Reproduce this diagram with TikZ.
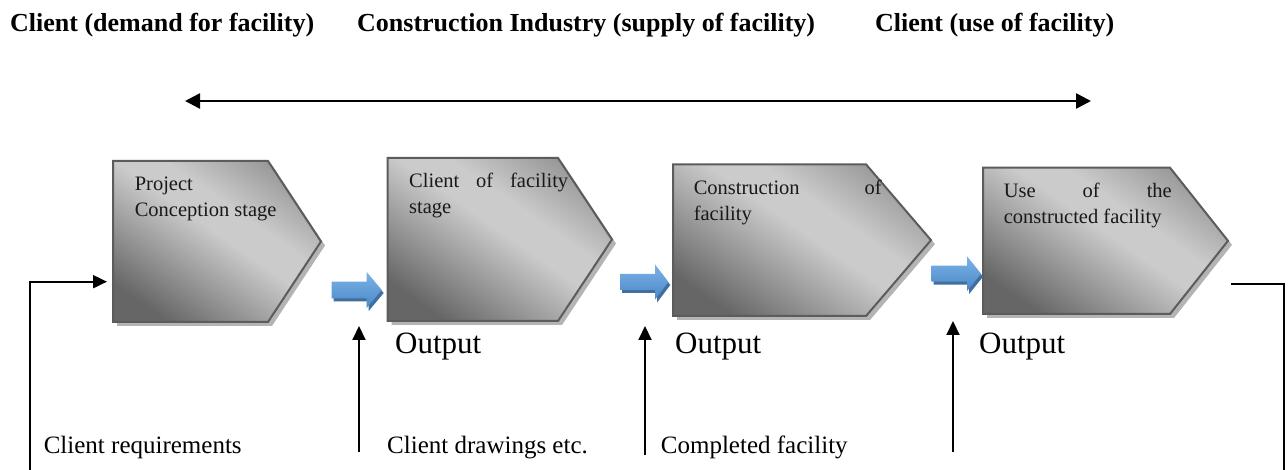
\documentclass[tikz,border=0pt]{standalone}
\usepackage{fontspec}
\setmainfont{Liberation Serif}
\usetikzlibrary{arrows.meta,calc}
\definecolor{gDark}{HTML}{666666}
\definecolor{gLight}{HTML}{CBCBCB}
\definecolor{gTop}{HTML}{8C8C8C}
\definecolor{gEdge}{HTML}{5C5C5C}
\definecolor{gShadow}{HTML}{B4B4B4}
\definecolor{bTop}{HTML}{7DB3E6}
\definecolor{bBot}{HTML}{4A88C8}
\definecolor{bShadow}{HTML}{3F6F9E}
\pgfdeclareverticalshading{stageshade}{100bp}{color(0bp)=(gDark); color(24bp)=(gDark); color(52bp)=(gLight); color(60bp)=(gLight); color(80bp)=(gTop); color(100bp)=(gTop)}
\newcommand\stagebox[6]{% name, left, top, bevel x, point x, bottom
  \coordinate (#1-nw) at (#2,#3);
  \coordinate (#1-ne) at (#4,#3);
  \coordinate (#1-e) at (#5,{(#3+#6)/2});
  \coordinate (#1-se) at (#4,#6);
  \coordinate (#1-sw) at (#2,#6);
  \fill[boxshadow,shift={(4,4)}] (#2,#3) -- (#4,#3) -- (#5,{(#3+#6)/2}) -- (#4,#6) -- (#2,#6) -- cycle;
  \path[boxbody] (#1-nw) -- (#1-ne) -- (#1-e) -- (#1-se) -- (#1-sw) -- cycle;
}
\newcommand\flowarrow[7]{% name, start x, tip x, head x, centre y, body half, head half
  \coordinate (#1-s) at (#2,#5);
  \coordinate (#1-t) at (#3,#5);
  \fill[arrowshadow,shift={(2,3)}] (#2,{#5-#6}) -- (#4,{#5-#6}) -- (#4,{#5-#7}) -- (#3,#5) -- (#4,{#5+#7}) -- (#4,{#5+#6}) -- (#2,{#5+#6}) -- cycle;
  \path[arrowbody] (#2,{#5-#6}) -- (#4,{#5-#6}) -- (#4,{#5-#7}) -- (#3,#5) -- (#4,{#5+#7}) -- (#4,{#5+#6}) -- (#2,{#5+#6}) -- cycle;
}
\begin{document}
\begin{tikzpicture}[x=1pt,y=-1pt,
  boxshadow/.style={fill=gShadow},
  boxbody/.style={draw=gEdge,line width=2pt,line join=miter,
    shade,shading=stageshade,shading angle=-35},
  arrowshadow/.style={fill=bShadow},
  arrowbody/.style={top color=bTop,bottom color=bBot},
  blk/.style={line width=2pt,-{Triangle[length=14pt,width=13pt]}},
  plainline/.style={line width=2pt},
  dbl/.style={line width=2.5pt,{Triangle[length=15pt,width=15pt]}-{Triangle[length=15pt,width=15pt]}},
  title/.style={font=\fontsize{26}{30}\selectfont\bfseries,inner sep=0pt,anchor=base west},
  boxtext/.style={font=\fontsize{20.5}{26}\selectfont,text=black!90,inner sep=0pt,anchor=base west},
  outlbl/.style={font=\fontsize{31}{36}\selectfont,inner sep=0pt,anchor=base west},
  botlbl/.style={font=\fontsize{25}{30}\selectfont,inner sep=0pt,anchor=base west}]
\path[fill=white] (0,0) rectangle (1288,470);
\useasboundingbox (0,0) rectangle (1288,470);

% titles
\node[title] (h1) at (10,32) {Client (demand for facility)};
\node[title] (h2) at (357,32) {Construction Industry (supply of facility)};
\node[title] (h3) at (875,32) {Client (use of facility)};

% double arrow
\coordinate (dl) at (185,101);
\coordinate (dr) at (1091,101);
\draw[dbl] (dl) -- (dr);

% stage boxes
\stagebox{b1}{113}{161}{268}{321}{322}
\stagebox{b2}{387.5}{158}{558}{612}{321}
\stagebox{b3}{673}{164.3}{866}{931}{316}
\stagebox{b4}{983}{167.7}{1170}{1228}{314}

% box texts
\node[boxtext] (t1) at (134.6,191) {\vtop{\hbox{Project}\hbox{Conception stage}}};
\node[boxtext] (t2) at (409,188) {\vtop{\hbox{\makebox[159pt][s]{Client of facility}}\hbox{stage}}};
\node[boxtext] (t3) at (693.6,194.3) {\vtop{\hbox{\makebox[188pt][s]{Construction of}}\hbox{facility}}};
\node[boxtext] (t4) at (1003.6,197.7) {\vtop{\hbox{\makebox[168pt][s]{Use of the}}\hbox{constructed facility}}};

% blue flow arrows
\flowarrow{f1}{331.7}{381.7}{366.7}{290}{8.3}{18}
\flowarrow{f2}{620}{668.3}{655}{282}{8}{17.6}
\flowarrow{f3}{931.7}{981}{967}{273.7}{8}{17.4}

% outputs
\node[outlbl] (o2) at (395,353) {Output};
\node[outlbl] (o3) at (675,353) {Output};
\node[outlbl] (o4) at (979,353) {Output};

% bottom labels
\node[botlbl] (l1) at (43.6,453.5) {Client requirements};
\node[botlbl] (l2) at (387,453.5) {Client drawings etc.};
\node[botlbl] (l3) at (660.7,453.5) {Completed facility};

% input loop to box 1
\coordinate (inS) at (30,470);
\coordinate (inC) at (30,281.7);
\coordinate (inT) at (107,281.7);
\draw[blk] (inS) -- (inC) -- (inT);

% upward arrows
\coordinate (u1s) at (359,452);  \coordinate (u1t) at (359,326);
\coordinate (u2s) at (645,455);  \coordinate (u2t) at (645,326);
\coordinate (u3s) at (953,452);  \coordinate (u3t) at (953,321);
\draw[blk] (u1s) -- (u1t);
\draw[blk] (u2s) -- (u2t);
\draw[blk] (u3s) -- (u3t);

% output bracket on the right
\coordinate (rA) at (1231,284.5);
\coordinate (rB) at (1284,284.5);
\coordinate (rC) at (1284,470);
\draw[plainline] (rA) -- (rB) -- (rC);
\end{tikzpicture}
\end{document}
